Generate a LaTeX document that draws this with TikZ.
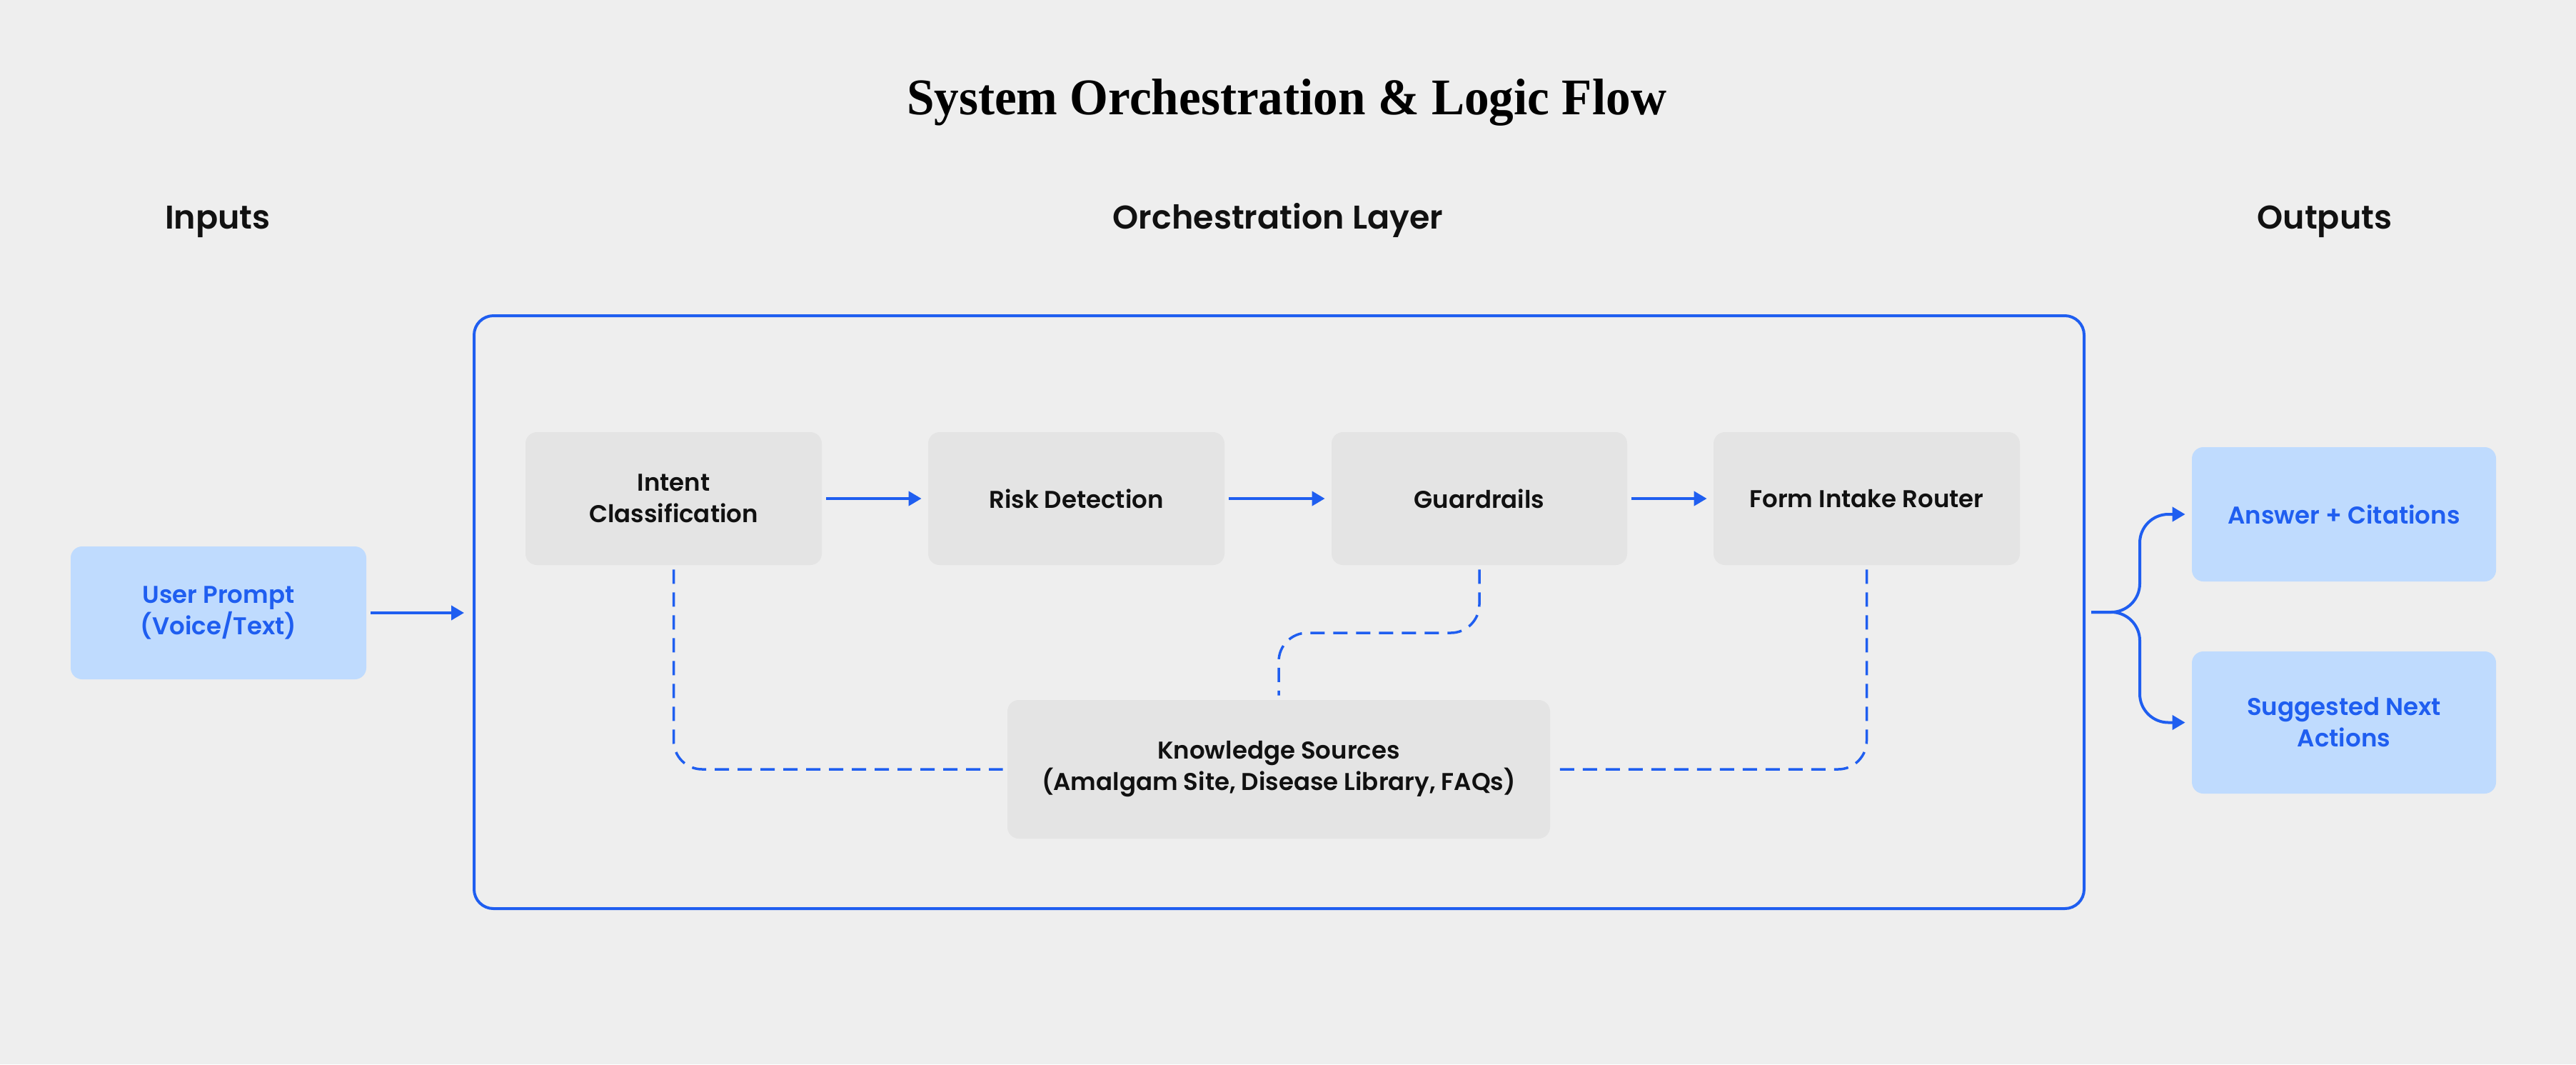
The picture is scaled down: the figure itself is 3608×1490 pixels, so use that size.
\documentclass[tikz,border=0pt]{standalone}
\usepackage{fontspec}
\usepackage{graphicx}
\usetikzlibrary{arrows.meta}
\IfFontExistsTF{Poppins SemiBold}{\setmainfont{Poppins}[BoldFont={Poppins SemiBold}]}{\setmainfont{Poppins}}
\newfontfamily\titlefont{Liberation Serif}[BoldFont={Liberation Serif Bold}]
\definecolor{bgc}{HTML}{EEEEEE}
\definecolor{boxgray}{HTML}{E4E4E4}
\definecolor{accent}{HTML}{1F5EF0}
\definecolor{lightblue}{HTML}{BFDBFE}
\definecolor{ink}{HTML}{111111}
\begin{document}
\begin{tikzpicture}[x=0.5pt,y=-0.5pt,
  gbox/.style={fill=boxgray, rounded corners=8pt, minimum height=93pt, inner sep=0pt,
    text=ink, align=center, font=\bfseries\fontsize{17}{22}\selectfont},
  bbox/.style={fill=lightblue, rounded corners=8pt, inner sep=0pt,
    text=accent, align=center, font=\bfseries\fontsize{17}{22}\selectfont},
  head/.style={anchor=base, text=ink, font=\bfseries\fontsize{23}{28}\selectfont},
  arr/.style={draw=accent, line width=2pt, -{Triangle[length=9pt,width=10pt]}},
  dashline/.style={draw=accent, line width=1.75pt, dash pattern=on 10pt off 6pt, rounded corners=20pt}
]
\fill[bgc] (0,0) rectangle (3608,1490);
\useasboundingbox (0,0) rectangle (3608,1490);

% title and headers
\node[anchor=base, text=black, inner sep=0pt] (title) at (1802,160)
  {\resizebox{532pt}{\height}{\titlefont\bfseries\fontsize{36}{40}\selectfont System Orchestration \& Logic Flow}};
\node[head] (hin) at (305,320) {Inputs};
\node[head] (horch) at (1790,320) {Orchestration Layer};
\node[head] (hout) at (3256,320) {Outputs};

% orchestration frame
\node[draw=accent, line width=2pt, rounded corners=13.5pt, minimum width=1127.5pt,
  minimum height=415pt, inner sep=0pt] (outer) at (1791.5,857) {};

% input
\node[bbox, minimum width=207pt, minimum height=93pt] (user) at (306,858) {User Prompt\\(Voice/Text)};

% pipeline
\node[gbox, minimum width=207.5pt] (intent) at (943.5,698) {Intent\\Classification};
\node[gbox, minimum width=207.5pt] (risk) at (1507.5,698) {Risk Detection};
\node[gbox, minimum width=207pt] (guard) at (2072,698) {Guardrails};
\node[gbox, minimum width=214.5pt] (form) at (2614.5,698) {Form Intake Router};
\node[gbox, minimum width=380pt, minimum height=97pt] (know) at (1791,1077)
  {Knowledge Sources\\(Amalgam Site, Disease Library, FAQs)};

% outputs
\node[bbox, minimum width=213pt, minimum height=94pt] (answer) at (3283,720) {Answer + Citations};
\node[bbox, minimum width=213pt, minimum height=99.5pt] (suggest) at (3283,1011.5) {Suggested Next\\Actions};

% arrows
\draw[arr, shorten <=3pt, shorten >=6pt] (user.east) -- (user.east -| outer.west);
\draw[arr, shorten <=3pt, shorten >=4.5pt] (intent) -- (risk);
\draw[arr, shorten <=3pt, shorten >=4.5pt] (risk) -- (guard);
\draw[arr, shorten <=3pt, shorten >=4.5pt] (guard) -- (form);

% dashed links to knowledge sources
\coordinate (gmid) at (0,886);
\draw[dashline, shorten <=3pt, shorten >=3pt] (intent.south) |- (know.west);
\draw[dashline, shorten <=3pt, shorten >=3pt] (guard.south) -- (guard.south |- gmid) -- (know.north |- gmid) -- (know.north);
\draw[dashline, shorten <=3pt, shorten >=3pt] (form.south) |- (know.east);

% output branches
\coordinate (brx) at (2997,0);
\draw[arr, rounded corners=20pt, shorten <=4pt, shorten >=4.5pt] (outer.east) -- (outer.east -| brx) -- (brx |- answer.west) -- (answer.west);
\draw[arr, rounded corners=20pt, shorten <=4pt, shorten >=4.5pt] (outer.east) -- (outer.east -| brx) -- (brx |- suggest.west) -- (suggest.west);
\end{tikzpicture}
\end{document}
